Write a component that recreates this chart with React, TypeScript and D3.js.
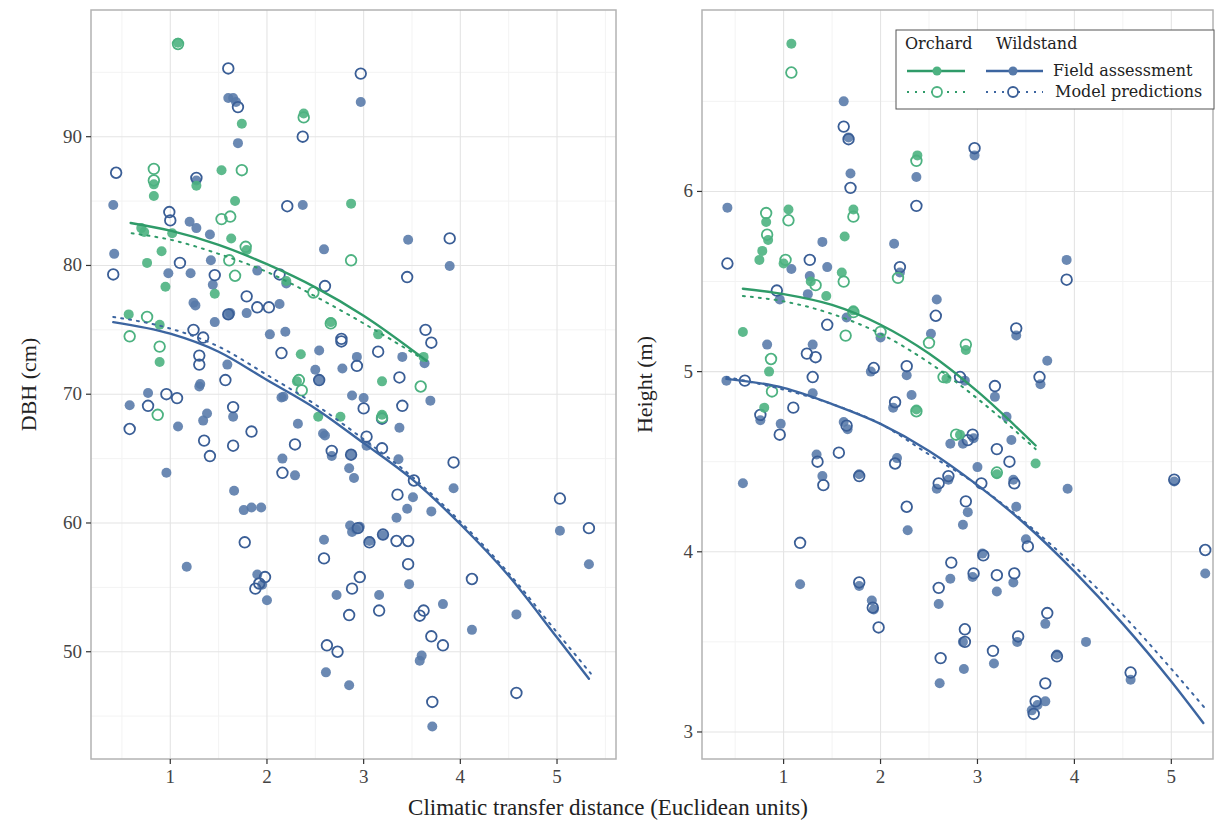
import React from "react";
import * as d3 from "d3";

type Pt = [number, number];

// ---- DBH panel (cm) ----
const dbhOrchardField: Pt[] = [
  [1.08, 97.3], [2.38, 91.8], [1.74, 91.0], [0.83, 86.3], [0.83, 85.4], [1.27, 86.2], [1.53, 87.4],
  [1.67, 85.0], [2.87, 84.8], [0.70, 82.9], [0.73, 82.6], [1.02, 82.5], [1.63, 82.1], [1.79, 81.2],
  [0.91, 81.1], [0.76, 80.2], [0.95, 78.35], [1.46, 77.8], [2.2, 78.8], [2.66, 75.6], [0.57, 76.2],
  [0.89, 75.4], [0.89, 72.5], [2.35, 73.1], [3.15, 74.65], [3.62, 72.9], [3.19, 71.0], [2.31, 71.0],
  [2.53, 68.25], [2.76, 68.25], [3.19, 68.4],
];
const dbhOrchardModel: Pt[] = [
  [1.08, 97.2], [2.38, 91.5], [0.83, 87.5], [1.74, 87.4], [0.83, 86.6], [1.53, 83.6], [1.62, 83.8],
  [1.78, 81.45], [1.61, 80.4], [2.87, 80.4], [1.67, 79.2], [2.48, 77.9], [2.66, 75.5], [0.76, 76.0],
  [0.58, 74.5], [0.89, 73.7], [2.33, 71.1], [3.59, 70.6], [2.36, 70.3], [0.87, 68.4], [3.19, 68.2],
];
const dbhWildField: Pt[] = [
  [1.60, 93.0], [1.65, 93.0], [1.68, 92.7], [2.97, 92.7], [1.70, 89.5], [1.27, 86.6], [0.41, 84.7],
  [2.37, 84.7], [1.20, 83.4], [1.27, 82.9], [1.41, 82.4], [0.42, 80.9], [2.59, 81.25], [3.46, 82.0],
  [1.42, 80.4], [3.89, 79.96], [1.21, 79.4], [0.98, 79.4], [1.90, 79.6], [2.20, 78.6], [1.44, 78.5],
  [1.24, 77.1], [1.26, 76.9], [2.13, 77.0], [1.60, 76.15], [1.62, 76.3], [1.79, 76.3], [1.46, 75.6],
  [2.03, 74.65], [2.19, 74.85], [1.59, 72.3], [1.30, 70.6], [2.54, 73.4], [3.40, 72.9], [3.63, 72.4],
  [2.93, 72.9], [2.78, 72.0], [2.50, 71.9], [2.54, 71.1], [0.77, 70.1], [2.17, 69.8], [1.31, 70.8],
  [0.58, 69.15], [1.08, 67.5], [1.38, 68.5], [1.34, 67.95], [1.65, 68.25], [0.96, 63.9], [1.66, 62.5],
  [2.15, 69.75], [2.32, 67.7], [2.16, 65.0], [2.29, 63.7], [1.76, 61.0], [1.84, 61.2], [1.94, 61.2],
  [1.17, 56.6], [1.90, 56.0], [1.95, 55.2], [2.0, 54.0], [2.58, 66.95], [2.60, 66.8], [2.67, 65.2],
  [2.88, 69.9], [3.0, 69.7], [2.87, 65.3], [2.85, 64.25], [2.90, 63.5], [3.03, 66.0], [3.37, 67.4],
  [3.69, 69.5], [3.36, 64.95], [3.51, 62.0], [3.45, 61.1], [3.34, 60.4], [3.70, 60.9], [3.93, 62.7],
  [2.86, 59.8], [2.92, 59.5], [2.96, 59.7], [2.88, 59.3], [2.59, 58.7], [3.06, 58.6], [3.20, 59.05],
  [3.47, 55.25], [2.72, 54.4], [3.16, 54.4], [3.82, 53.7], [4.12, 51.7], [3.60, 49.7], [3.58, 49.3],
  [2.61, 48.4], [2.85, 47.4], [3.71, 44.2], [4.58, 52.9], [5.03, 59.4], [5.33, 56.8],
];
const dbhWildModel: Pt[] = [
  [1.60, 95.3], [2.97, 94.9], [1.70, 92.3], [2.37, 90.0], [0.44, 87.2], [1.27, 86.8], [2.21, 84.6],
  [0.99, 84.15], [1.0, 83.5], [3.89, 82.1], [1.10, 80.2], [0.41, 79.3], [1.46, 79.25], [3.45, 79.1],
  [2.13, 79.3], [1.79, 77.6], [1.90, 76.75], [2.02, 76.75], [2.60, 78.4], [1.60, 76.2], [1.24, 75.0],
  [1.34, 74.4], [1.30, 73.0], [1.30, 72.3], [1.57, 71.1], [2.15, 73.2], [2.77, 74.3], [2.77, 74.1],
  [3.15, 73.3], [3.64, 75.0], [3.70, 74.0], [2.93, 72.2], [2.54, 71.1], [3.37, 71.3], [0.96, 70.0],
  [1.07, 69.7], [0.77, 69.1], [0.58, 67.3], [1.35, 66.4], [1.41, 65.2], [1.65, 69.0], [1.65, 66.0],
  [1.84, 67.1], [2.29, 66.1], [2.16, 63.9], [1.77, 58.5], [1.98, 55.8], [1.88, 54.9], [1.92, 55.3],
  [2.67, 65.6], [3.0, 68.9], [2.87, 65.3], [3.19, 68.1], [3.03, 66.7], [3.19, 65.8], [3.40, 69.1],
  [3.52, 63.3], [3.35, 62.2], [3.93, 64.7], [2.94, 59.6], [2.59, 57.25], [3.06, 58.5], [3.20, 59.1],
  [3.34, 58.6], [3.46, 58.6], [3.46, 56.8], [2.96, 55.8], [2.88, 54.9], [3.16, 53.2], [2.85, 52.85],
  [3.62, 53.2], [3.58, 52.8], [4.12, 55.65], [3.70, 51.2], [3.82, 50.5], [2.62, 50.5], [2.73, 50.0],
  [3.71, 46.1], [4.58, 46.8], [5.03, 61.9], [5.33, 59.6],
];
// fitted curves
const dbhOrchardFieldFit: Pt[] = [[0.59, 83.3], [1.0, 82.7], [1.5, 81.6], [2.0, 80.1], [2.5, 78.3], [3.0, 76.1], [3.65, 72.6]];
const dbhOrchardModelFit: Pt[] = [[0.6, 82.5], [1.0, 82.0], [1.5, 80.9], [2.0, 79.5], [2.5, 77.6], [3.0, 75.5], [3.6, 72.8]];
const dbhWildFieldFit: Pt[] = [[0.41, 75.6], [1.0, 74.7], [1.5, 73.3], [2.0, 71.1], [2.5, 68.9], [3.0, 66.2], [3.5, 63.4], [4.0, 59.9], [4.5, 55.9], [5.0, 51.1], [5.33, 47.9]];
const dbhWildModelFit: Pt[] = [[0.41, 76.0], [1.0, 75.1], [1.5, 73.7], [2.0, 71.5], [2.5, 69.2], [3.0, 66.5], [3.5, 63.6], [4.0, 60.1], [4.5, 56.1], [5.0, 51.5], [5.35, 48.3]];

// ---- Height panel (m) ----
const htOrchardField: Pt[] = [
  [1.08, 6.82], [2.38, 6.2], [1.63, 5.75], [1.72, 5.9], [0.82, 5.83], [0.84, 5.73], [0.78, 5.67],
  [1.05, 5.9], [0.58, 5.22], [0.85, 5.0], [0.8, 4.8], [1.28, 5.5], [1.44, 5.42], [1.6, 5.55],
  [1.72, 5.34], [2.37, 4.79], [2.68, 4.96], [2.88, 5.12], [2.82, 4.65], [3.2, 4.43], [3.6, 4.49],
  [0.75, 5.62], [1.0, 5.6],
];
const htOrchardModel: Pt[] = [
  [1.08, 6.66], [2.37, 6.17], [1.72, 5.86], [0.82, 5.88], [0.83, 5.76], [1.05, 5.84], [0.87, 5.07],
  [1.33, 5.48], [1.62, 5.5], [1.64, 5.2], [1.72, 5.33], [2.0, 5.22], [2.18, 5.52], [2.37, 4.78],
  [2.5, 5.16], [2.65, 4.97], [2.88, 5.15], [2.78, 4.65], [3.2, 4.44], [0.88, 4.89], [1.02, 5.62],
];
const htWildField: Pt[] = [
  [0.42, 5.91], [0.41, 4.95], [0.58, 4.38], [0.76, 4.73], [0.83, 5.15], [0.97, 4.71], [0.96, 5.4],
  [1.08, 5.57], [1.17, 3.82], [1.27, 5.53], [1.25, 5.43], [1.3, 5.15], [1.3, 4.88], [1.34, 4.54],
  [1.4, 4.42], [1.45, 5.58], [1.4, 5.72], [1.62, 6.5], [1.67, 6.3], [1.69, 6.1], [1.65, 5.3],
  [1.62, 4.72], [1.66, 4.68], [1.78, 4.43], [1.78, 3.81], [1.91, 3.73], [1.93, 3.68], [1.9, 5.0],
  [2.0, 5.19], [2.14, 5.71], [2.2, 5.55], [2.13, 4.8], [2.17, 4.52], [2.28, 4.12], [2.27, 4.98],
  [2.37, 6.08], [2.32, 4.87], [2.52, 5.21], [2.58, 5.4], [2.58, 4.35], [2.6, 3.71], [2.61, 3.27],
  [2.72, 4.6], [2.7, 4.4], [2.72, 3.85], [2.87, 4.95], [2.85, 4.6], [2.96, 4.63], [2.85, 4.15],
  [2.9, 4.22], [2.85, 3.5], [2.86, 3.35], [2.95, 3.86], [2.97, 6.2], [3.0, 4.47], [3.05, 3.99],
  [3.18, 4.86], [3.17, 3.38], [3.2, 3.78], [3.3, 4.75], [3.35, 4.62], [3.4, 5.2], [3.37, 4.4],
  [3.4, 4.25], [3.37, 3.83], [3.41, 3.5], [3.5, 4.07], [3.65, 4.93], [3.72, 5.06], [3.56, 3.12],
  [3.62, 3.15], [3.7, 3.17], [3.7, 3.6], [3.82, 3.43], [3.92, 5.62], [3.93, 4.35], [4.12, 3.5],
  [4.58, 3.29], [5.03, 4.39], [5.35, 3.88],
];
const htWildModel: Pt[] = [
  [0.42, 5.6], [0.6, 4.95], [0.76, 4.76], [0.96, 4.65], [0.93, 5.45], [1.1, 4.8], [1.17, 4.05],
  [1.27, 5.62], [1.24, 5.1], [1.33, 5.08], [1.3, 4.97], [1.35, 4.5], [1.41, 4.37], [1.45, 5.26],
  [1.62, 6.36], [1.67, 6.29], [1.69, 6.02], [1.65, 4.7], [1.57, 4.55], [1.78, 4.42], [1.78, 3.83],
  [1.92, 3.69], [1.98, 3.58], [1.93, 5.02], [2.2, 5.58], [2.15, 4.83], [2.15, 4.49], [2.27, 4.25],
  [2.27, 5.03], [2.37, 5.92], [2.57, 5.31], [2.6, 4.38], [2.6, 3.8], [2.62, 3.41], [2.7, 4.42],
  [2.73, 3.94], [2.82, 4.97], [2.9, 4.62], [2.95, 4.65], [2.88, 4.28], [2.87, 3.57], [2.87, 3.5],
  [2.96, 3.88], [2.97, 6.24], [3.04, 4.38], [3.06, 3.98], [3.18, 4.92], [3.2, 4.57], [3.16, 3.45],
  [3.2, 3.87], [3.33, 4.5], [3.4, 5.24], [3.38, 4.38], [3.38, 3.88], [3.42, 3.53], [3.52, 4.03],
  [3.64, 4.97], [3.58, 3.1], [3.6, 3.17], [3.7, 3.27], [3.72, 3.66], [3.82, 3.42], [3.92, 5.51],
  [4.58, 3.33], [5.03, 4.4], [5.35, 4.01],
];
const htOrchardFieldFit: Pt[] = [[0.58, 5.46], [1.0, 5.43], [1.5, 5.37], [2.0, 5.26], [2.5, 5.1], [3.0, 4.89], [3.6, 4.59]];
const htOrchardModelFit: Pt[] = [[0.58, 5.42], [1.0, 5.39], [1.5, 5.32], [2.0, 5.21], [2.5, 5.05], [3.0, 4.85], [3.6, 4.57]];
const htWildFieldFit: Pt[] = [[0.41, 4.96], [1.0, 4.91], [1.5, 4.82], [2.0, 4.71], [2.5, 4.56], [3.0, 4.37], [3.5, 4.15], [4.0, 3.89], [4.5, 3.6], [5.0, 3.28], [5.33, 3.05]];
const htWildModelFit: Pt[] = [[0.41, 4.97], [1.0, 4.9], [1.5, 4.82], [2.0, 4.71], [2.5, 4.54], [3.0, 4.37], [3.5, 4.16], [4.0, 3.92], [4.5, 3.65], [5.0, 3.35], [5.35, 3.13]];

const xTicks = [1, 2, 3, 4, 5];
const xMinor = [0.5, 1.5, 2.5, 3.5, 4.5, 5.5];
const dbhTicks = [50, 60, 70, 80, 90];
const dbhMinor = [45, 55, 65, 75, 85, 95];
const htTicks = [3, 4, 5, 6];
const htMinor = [3.5, 4.5, 5.5, 6.5];

const GREEN_LINE = "#2f9b69";
const GREEN_PT = "#4db281";
const BLUE_LINE = "#3c65a0";
const BLUE_PT = "#5679a9";
const BLUE_OPEN = "#3a5e96";
const FONT = "'Liberation Serif', 'DejaVu Serif', serif";
const LEGEND_FONT = "'DejaVu Serif', 'Liberation Serif', serif";

type PanelProps = {
  x0: number; x1: number; y0: number; y1: number;
  xDomain: [number, number]; yDomain: [number, number];
  yTicks: number[]; yMinor: number[];
  orchardField: Pt[]; orchardModel: Pt[]; wildField: Pt[]; wildModel: Pt[];
  fits: { pts: Pt[]; color: string; dashed: boolean }[];
  yLabel: string; yLabelX: number;
};

function Panel(p: PanelProps) {
  const x = d3.scaleLinear().domain(p.xDomain).range([p.x0, p.x1]);
  const y = d3.scaleLinear().domain(p.yDomain).range([p.y1, p.y0]);
  const line = d3.line<Pt>().x((d) => x(d[0])).y((d) => y(d[1])).curve(d3.curveMonotoneX);
  const xm = xMinor.filter((v) => x(v) > p.x0 && x(v) < p.x1);
  const ym = p.yMinor.filter((v) => y(v) > p.y0 && y(v) < p.y1);
  return (
    <g>
      {xm.map((v) => <line key={"xm" + v} x1={x(v)} x2={x(v)} y1={p.y0} y2={p.y1} stroke="#f3f3f3" strokeWidth={1} />)}
      {ym.map((v) => <line key={"ym" + v} x1={p.x0} x2={p.x1} y1={y(v)} y2={y(v)} stroke="#f3f3f3" strokeWidth={1} />)}
      {xTicks.map((v) => <line key={"xg" + v} x1={x(v)} x2={x(v)} y1={p.y0} y2={p.y1} stroke="#e4e4e4" strokeWidth={1.1} />)}
      {p.yTicks.map((v) => <line key={"yg" + v} x1={p.x0} x2={p.x1} y1={y(v)} y2={y(v)} stroke="#e4e4e4" strokeWidth={1.1} />)}

      {p.wildField.map((d, i) => <circle key={"wf" + i} cx={x(d[0])} cy={y(d[1])} r={5} fill={BLUE_PT} fillOpacity={0.88} />)}
      {p.wildModel.map((d, i) => <circle key={"wm" + i} cx={x(d[0])} cy={y(d[1])} r={5.3} fill="none" stroke={BLUE_OPEN} strokeWidth={1.8} />)}
      {p.orchardField.map((d, i) => <circle key={"of" + i} cx={x(d[0])} cy={y(d[1])} r={5} fill={GREEN_PT} fillOpacity={0.9} />)}
      {p.orchardModel.map((d, i) => <circle key={"om" + i} cx={x(d[0])} cy={y(d[1])} r={5.3} fill="none" stroke={GREEN_PT} strokeWidth={1.8} />)}

      {p.fits.map((f, i) => (
        <path key={"fit" + i} d={line(f.pts) || ""} fill="none" stroke={f.color}
          strokeWidth={f.dashed ? 2 : 2.4} strokeDasharray={f.dashed ? "2,6" : undefined} strokeLinecap="round" />
      ))}

      <rect x={p.x0} y={p.y0} width={p.x1 - p.x0} height={p.y1 - p.y0} fill="none" stroke="#b3b3b3" strokeWidth={1.5} />

      {xTicks.map((v) => (
        <g key={"xt" + v}>
          <line x1={x(v)} x2={x(v)} y1={p.y1} y2={p.y1 + 5} stroke="#333" strokeWidth={1.2} />
          <text x={x(v)} y={p.y1 + 24} textAnchor="middle" fontSize={19} fill="#444" fontFamily={FONT}>{v}</text>
        </g>
      ))}
      {p.yTicks.map((v) => (
        <g key={"yt" + v}>
          <line x1={p.x0 - 5} x2={p.x0} y1={y(v)} y2={y(v)} stroke="#333" strokeWidth={1.2} />
          <text x={p.x0 - 9} y={y(v) + 6} textAnchor="end" fontSize={19} fill="#444" fontFamily={FONT}>{v}</text>
        </g>
      ))}
      <text transform={`translate(${p.yLabelX},${(p.y0 + p.y1) / 2}) rotate(-90)`} textAnchor="middle"
        fontSize={22} fill="#222" fontFamily={FONT}>{p.yLabel}</text>
    </g>
  );
}

function Legend() {
  const lx = 896, ly = 30;
  const oc = 937, wc = 1013;
  const r1 = 71, r2 = 92;
  return (
    <g fontFamily={LEGEND_FONT}>
      <rect x={lx} y={ly} width={318} height={79} fill="white" stroke="#555" strokeWidth={1} />
      <text x={905} y={49} fontSize={16} fill="#222">Orchard</text>
      <text x={996} y={49} fontSize={16} fill="#222">Wildstand</text>
      <line x1={907} x2={965} y1={r1} y2={r1} stroke={GREEN_LINE} strokeWidth={2.4} />
      <circle cx={oc} cy={r1} r={4.5} fill={GREEN_PT} />
      <line x1={986} x2={1043} y1={r1} y2={r1} stroke={BLUE_LINE} strokeWidth={2.4} />
      <circle cx={wc} cy={r1} r={4.5} fill={BLUE_PT} />
      <line x1={907} x2={965} y1={r2} y2={r2} stroke={GREEN_LINE} strokeWidth={2} strokeDasharray="2,6" />
      <circle cx={oc} cy={r2} r={5} fill="white" stroke={GREEN_PT} strokeWidth={1.8} />
      <line x1={986} x2={1043} y1={r2} y2={r2} stroke={BLUE_LINE} strokeWidth={2} strokeDasharray="2,6" />
      <circle cx={wc} cy={r2} r={5} fill="white" stroke={BLUE_OPEN} strokeWidth={1.8} />
      <text x={1053} y={r1 + 5} fontSize={16} fill="#222">Field assessment</text>
      <text x={1055} y={r2 + 5} fontSize={16} fill="#222">Model predictions</text>
    </g>
  );
}

export default function App() {
  return (
    <svg width={1217} height={830} style={{ position: "absolute", left: 0, top: 0, background: "white" }}>
      <Panel
        x0={91} x1={616} y0={10} y1={759}
        xDomain={[0.18, 5.61]} yDomain={[41.67, 99.84]}
        yTicks={dbhTicks} yMinor={dbhMinor}
        orchardField={dbhOrchardField} orchardModel={dbhOrchardModel}
        wildField={dbhWildField} wildModel={dbhWildModel}
        fits={[
          { pts: dbhWildFieldFit, color: BLUE_LINE, dashed: false },
          { pts: dbhWildModelFit, color: BLUE_LINE, dashed: true },
          { pts: dbhOrchardFieldFit, color: GREEN_LINE, dashed: false },
          { pts: dbhOrchardModelFit, color: GREEN_LINE, dashed: true },
        ]}
        yLabel="DBH (cm)" yLabelX={36}
      />
      <Panel
        x0={702} x1={1213} y0={10} y1={759}
        xDomain={[0.158, 5.43]} yDomain={[2.85, 7.007]}
        yTicks={htTicks} yMinor={htMinor}
        orchardField={htOrchardField} orchardModel={htOrchardModel}
        wildField={htWildField} wildModel={htWildModel}
        fits={[
          { pts: htWildFieldFit, color: BLUE_LINE, dashed: false },
          { pts: htWildModelFit, color: BLUE_LINE, dashed: true },
          { pts: htOrchardFieldFit, color: GREEN_LINE, dashed: false },
          { pts: htOrchardModelFit, color: GREEN_LINE, dashed: true },
        ]}
        yLabel="Height (m)" yLabelX={652}
      />
      <Legend />
      <text x={608} y={815} textAnchor="middle" fontSize={23} fill="#222" fontFamily={FONT}>
        Climatic transfer distance (Euclidean units)
      </text>
    </svg>
  );
}
